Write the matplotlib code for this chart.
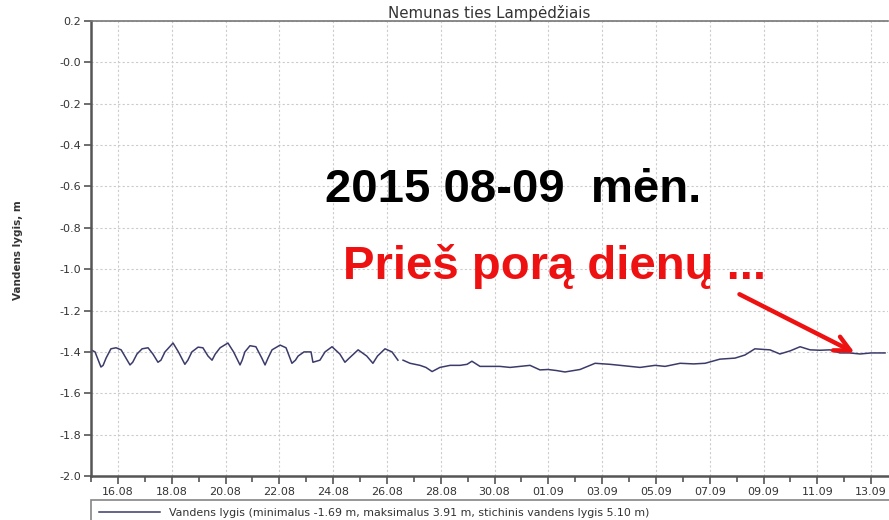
import matplotlib.pyplot as plt
from matplotlib.ticker import FixedLocator, MultipleLocator

plt.rcParams['axes.unicode_minus'] = False

# time in days since 15.08 00:00, water level in m
days_a = [0.0, 0.15, 0.30, 0.37, 0.45, 0.56, 0.74, 0.93, 1.12, 1.30, 1.45, 1.55,
          1.71, 1.90, 2.12, 2.30, 2.49, 2.60, 2.75, 3.05, 3.25, 3.49, 3.60, 3.75,
          3.98, 4.16, 4.35, 4.50, 4.62, 4.80, 5.09, 5.30, 5.54, 5.62, 5.72, 5.91,
          6.13, 6.35, 6.47, 6.58, 6.73, 7.03, 7.25, 7.47, 7.60, 7.70, 7.92, 8.18,
          8.25, 8.51, 8.70, 8.96, 9.25, 9.44, 9.60, 9.93, 10.25, 10.48, 10.65,
          10.93, 11.19, 11.41]
level_a = [-1.39, -1.40, -1.45, -1.473, -1.465, -1.43, -1.385, -1.38, -1.39, -1.43,
           -1.463, -1.45, -1.41, -1.385, -1.38, -1.41, -1.45, -1.44, -1.40, -1.357,
           -1.40, -1.46, -1.44, -1.40, -1.377, -1.38, -1.42, -1.44, -1.41, -1.38,
           -1.357, -1.40, -1.463, -1.44, -1.40, -1.37, -1.375, -1.43, -1.463, -1.43,
           -1.39, -1.367, -1.38, -1.455, -1.44, -1.42, -1.40, -1.40, -1.45, -1.44,
           -1.40, -1.375, -1.41, -1.45, -1.43, -1.39, -1.42, -1.455, -1.42, -1.385,
           -1.40, -1.44]

days_b = [11.60, 11.86, 12.23, 12.45, 12.68, 12.97, 13.35, 13.72, 13.98, 14.16,
          14.46, 14.83, 15.20, 15.58, 15.95, 16.32, 16.69, 16.99, 17.30, 17.62,
          18.18, 18.74, 19.29, 19.67, 20.41, 20.97, 21.34, 21.90, 22.40, 22.83,
          23.38, 23.94, 24.31, 24.68, 25.00, 25.24, 25.61, 25.99, 26.36, 26.73,
          27.10, 27.47, 27.84, 28.20, 28.59, 29.00, 29.52]
level_b = [-1.44, -1.455, -1.465, -1.475, -1.495, -1.475, -1.465, -1.465, -1.46, -1.445,
           -1.47, -1.47, -1.47, -1.475, -1.47, -1.465, -1.487, -1.485, -1.49, -1.497,
           -1.485, -1.455, -1.46, -1.465, -1.475, -1.465, -1.47, -1.455, -1.458, -1.455,
           -1.435, -1.43, -1.415, -1.385, -1.388, -1.39, -1.41, -1.395, -1.375, -1.39,
           -1.392, -1.39, -1.405, -1.405, -1.41, -1.405, -1.405]

x_ticks = [1, 3, 5, 7, 9, 11, 13, 15, 17, 19, 21, 23, 25, 27, 29]
x_labels = ['16.08', '18.08', '20.08', '22.08', '24.08', '26.08', '28.08', '30.08',
            '01.09', '03.09', '05.09', '07.09', '09.09', '11.09', '13.09']
y_ticks = [0.2, 0.0, -0.2, -0.4, -0.6, -0.8, -1.0, -1.2, -1.4, -1.6, -1.8, -2.0]
y_labels = ['0.2', '-0.0', '-0.2', '-0.4', '-0.6', '-0.8', '-1.0', '-1.2', '-1.4',
            '-1.6', '-1.8', '-2.0']

W, H = 889, 520
fig = plt.figure(figsize=(W / 100, H / 100), dpi=100)
ax = fig.add_axes([91 / W, 1 - 476 / H, 797 / W, 455 / H])

line_color = '#3b3b6b'
ax.plot(days_a, level_a, color=line_color, lw=1.1,
        label='Vandens lygis (minimalus -1.69 m, maksimalus 3.91 m, stichinis vandens lygis 5.10 m)')
ax.plot(days_b, level_b, color=line_color, lw=1.1)

ax.set_xlim(0, 797 / 26.9)
ax.set_ylim(-2.0, 0.2)
ax.xaxis.set_major_locator(FixedLocator(x_ticks))
ax.set_xticklabels(x_labels)
ax.xaxis.set_minor_locator(MultipleLocator(1))
ax.set_yticks(y_ticks)
ax.set_yticklabels(y_labels)

ax.grid(True, which='major', color='#cccccc', linestyle=(0, (2, 2)), lw=0.8)
for side in ['left', 'bottom']:
    ax.spines[side].set_color('#555555')
    ax.spines[side].set_linewidth(1.8)
ax.spines['top'].set_color('#777777')
ax.spines['top'].set_linewidth(1.2)
ax.spines['right'].set_visible(False)
ax.tick_params(axis='both', colors='#555555', labelcolor='#333333', labelsize=8, width=1.2)
ax.tick_params(axis='x', which='major', length=6, pad=2)
ax.tick_params(axis='x', which='minor', length=4, width=1.2, color='#555555')
ax.tick_params(axis='y', length=5, pad=2)

ax.set_title('Nemunas ties Lampėdžiais', fontsize=10.8, color='#333333', pad=2)
fig.text(18 / W, 1 - 250 / H, 'Vandens lygis, m', rotation=90, fontsize=7.5,
         fontweight='bold', color='#333333', ha='center', va='center')

leg = fig.legend(loc='upper left', bbox_to_anchor=(91 / W, -0.1, 1.0, 1 - 500 / H + 0.1),
                 mode='expand', fontsize=7.9, frameon=True, fancybox=False,
                 handlelength=5.6, borderaxespad=0, borderpad=0.7)
leg.get_frame().set_edgecolor('#666666')
leg.get_frame().set_linewidth(1.2)
for t in leg.get_texts():
    t.set_color('#333333')

fig.text(325 / W, 1 - 202 / H, '2015 08-09  mėn.', fontsize=34, fontweight='bold',
         family='Liberation Sans', color='black', va='baseline')
fig.text(343 / W, 1 - 279 / H, 'Prieš porą dienų ...', fontsize=34, fontweight='bold',
         family='Liberation Sans', color='#ee1111', va='baseline')
ax.annotate('', xy=(28.48, -1.41), xycoords='data',
            xytext=(737 / W, 1 - 293 / H), textcoords='figure fraction',
            arrowprops=dict(arrowstyle='->,head_length=1.1,head_width=0.55',
                        color='#ee1111', lw=3.2))

fig.savefig('out.png', dpi=100)
